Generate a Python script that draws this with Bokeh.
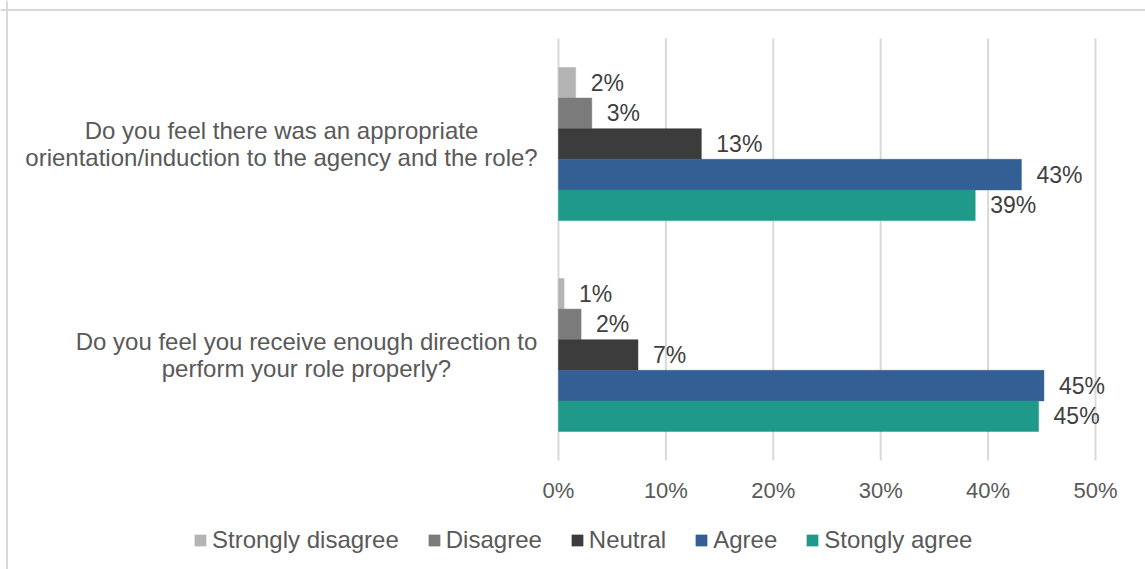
from bokeh.plotting import figure
from bokeh.models import (ColumnDataSource, Legend, LegendItem, LabelSet, Label, Span)
from bokeh.core.properties import value
from bokeh.transform import dodge
from bokeh.embed import file_html
from bokeh.resources import INLINE

# ---- data ----
categories = [
    "Do you feel there was an appropriate\norientation/induction to the agency and the role?",
    "Do you feel you receive enough direction to\nperform your role properly?",
]
series_names = ["Strongly disagree", "Disagree", "Neutral", "Agree", "Stongly agree"]
strongly_disagree = [0.016, 0.0052]
disagree = [0.031, 0.021]
neutral = [0.133, 0.074]
agree = [0.431, 0.452]
stongly_agree = [0.388, 0.447]
x_ticks = [0.0, 0.1, 0.2, 0.3, 0.4, 0.5]
x_tick_labels = ["0%", "10%", "20%", "30%", "40%", "50%"]

series_values = [strongly_disagree, disagree, neutral, agree, stongly_agree]
colors = ["#b4b4b4", "#7b7b7b", "#3c3c3c", "#345f94", "#1f9a8a"]

FONT = "Liberation Sans"

# ---- layout (pixels of the canvas) ----
W, H = 1145, 569
X0, X50 = 558, 1095          # 0% and 50% positions
TOP, BOT = 38, 460           # plot area top / bottom
pxx = (X50 - X0) / 0.5
pxy = (BOT - TOP) / 2.0
x_lo = -X0 / pxx
x_hi = 0.5 + (W - X50) / pxx
y_hi = 2 + TOP / pxy
y_lo = -(H - BOT) / pxy


def xd(px):
    return (px - X0) / pxx


def yd(py):
    return (BOT - py) / pxy


cat_pos = [1.5, 0.5]
cat_label_px = [281, 306]
bar_h = 0.145
offsets = [2 * bar_h, bar_h, 0.0, -bar_h, -2 * bar_h]

p = figure(width=W, height=H, x_range=(x_lo, x_hi), y_range=(y_lo, y_hi),
           output_backend="svg", toolbar_location=None,
           min_border_left=0, min_border_right=0, min_border_top=0,
           min_border_bottom=0)
p.outline_line_color = None
p.background_fill_color = "white"
p.border_fill_color = "white"
p.axis.visible = False
p.grid.visible = False

# chart-area border (top and left edges visible in the reference)
p.add_layout(Span(location=xd(6.5), dimension="height", line_color="#d9d9d9", line_width=2))
p.add_layout(Span(location=yd(9.5), dimension="width", line_color="#d9d9d9", line_width=2))

# vertical gridlines at the x ticks, across the plot area only
p.segment(x0=x_ticks, x1=x_ticks, y0=[0] * len(x_ticks), y1=[2] * len(x_ticks),
          line_color="#d9d9d9", line_width=2)

items = []
for name, vals, col, off in zip(series_names, series_values, colors, offsets):
    src = ColumnDataSource(dict(
        y=cat_pos, v=vals,
        lab=[f"{round(v * 100):.0f}%" for v in vals],
    ))
    r = p.hbar(y=dodge("y", off, range=p.y_range), right="v", left=0, height=bar_h,
               source=src, fill_color=col, line_color=col, line_width=0.5)
    items.append(LegendItem(label=name, renderers=[r]))
    ls = LabelSet(x="v", y=dodge("y", off, range=p.y_range), text="lab", source=src,
                  x_offset=15, text_baseline="middle", text_align="left",
                  text_font=value(FONT), text_font_size=value("23px"),
                  text_color=value("#404040"))
    p.add_layout(ls)

# category labels
for cat, y, lx in zip(categories, cat_pos, cat_label_px):
    p.add_layout(Label(x=xd(lx), y=y, text=cat, text_align="center",
                       text_baseline="middle", text_font=FONT,
                       text_font_size="24px", text_color="#595959",
                       text_line_height=1.0))

# x tick labels
tick_src = ColumnDataSource(dict(x=x_ticks, y=[yd(490)] * len(x_ticks), t=x_tick_labels))
p.add_layout(LabelSet(x="x", y="y", text="t", source=tick_src, text_align="center",
                      text_baseline="middle", text_font=value(FONT),
                      text_font_size=value("22px"), text_color=value("#595959")))

legend = Legend(items=items, orientation="horizontal", location=(193, 15),
                border_line_color=None, background_fill_alpha=0,
                label_text_font=FONT, label_text_font_size="24px",
                label_text_color="#595959", glyph_width=14, glyph_height=14,
                label_standoff=5, spacing=28, padding=0, margin=0)
p.add_layout(legend, "center")

open("out.html", "w").write(file_html(p, INLINE))
